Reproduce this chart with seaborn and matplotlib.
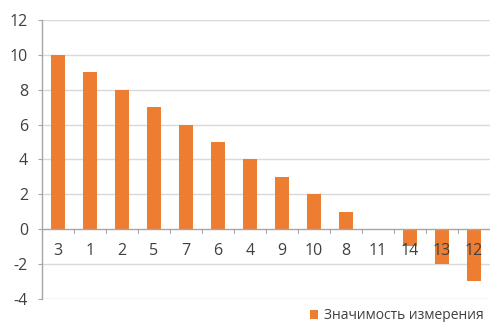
import matplotlib
matplotlib.use("Agg")
import matplotlib.pyplot as plt
from matplotlib.patches import Patch
import seaborn as sns
import pandas as pd

categories = ["3", "1", "2", "5", "7", "6", "4", "9", "10", "8", "11", "14", "13", "12"]
values = [10, 9, 8, 7, 6, 5, 4, 3, 2, 1, 0, -1, -2, -3]
series_name = "Значимость измерения"
y_ticks = [-4, -2, 0, 2, 4, 6, 8, 10, 12]

BAR = "#ED7D31"
GRID = "#D9D9D9"
AXIS = "#A6A6A6"
TEXT = "#404040"

sns.set_theme(style="white")
plt.rcParams["font.family"] = ["Open Sans", "DejaVu Sans"]

df = pd.DataFrame({"cat": categories, "val": values})

fig = plt.figure(figsize=(4.9, 3.22), dpi=100)
ax = fig.add_axes([0.0857, 0.0724, 0.9143, 0.8655])

sns.barplot(data=df, x="cat", y="val", order=categories, color=BAR,
            saturation=1, width=0.42, edgecolor="none", linewidth=0, ax=ax)
for p in ax.patches:
    p.set_zorder(3)

ax.set_ylim(y_ticks[0], y_ticks[-1])
ax.set_xlim(-0.5, len(categories) - 0.5)
ax.set_yticks(y_ticks)
ax.set_yticklabels([str(t) for t in y_ticks])
ax.set_xticks([])
ax.set_xlabel("")
ax.set_ylabel("")

# horizontal gridlines
for t in y_ticks:
    if t != 0:
        ax.axhline(t, color=GRID, lw=1.0, zorder=1)

# category axis at zero with boundary tick marks
ax.axhline(0, color=AXIS, lw=1.0, zorder=4)
for i in range(len(categories) + 1):
    ax.plot([i - 0.5, i - 0.5], [0, -0.25], color=AXIS, lw=0.8, zorder=4,
            clip_on=False)

# category labels below the zero line
for i, c in enumerate(categories):
    ax.annotate(c, xy=(i, 0), xytext=(0, -22), textcoords="offset pixels",
                ha="center", va="center", fontsize=11.5, color=TEXT, zorder=5)

for s in ["top", "right", "bottom"]:
    ax.spines[s].set_visible(False)
ax.spines["left"].set_color(AXIS)
ax.spines["left"].set_linewidth(1.0)
ax.tick_params(axis="y", length=3, width=0.8, color=AXIS, pad=7,
               labelsize=11.5, labelcolor=TEXT, left=True)

handle = Patch(facecolor=BAR, edgecolor="none")
fig.legend([handle], [series_name], loc="lower right",
           bbox_to_anchor=(1.012, -0.043), frameon=False, fontsize=10,
           handlelength=0.6, handleheight=0.6, handletextpad=0.4,
           labelcolor=TEXT)

fig.savefig("out.png", dpi=100, facecolor="white")
